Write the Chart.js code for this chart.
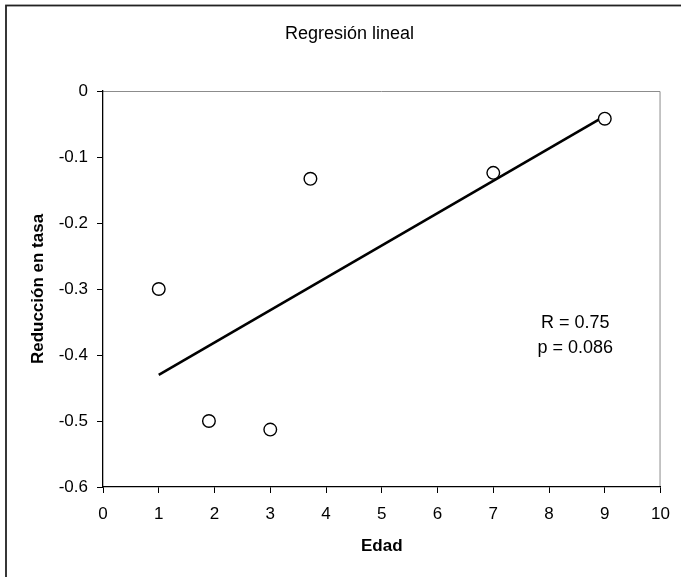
<!DOCTYPE html>
<html>
<head>
<meta charset="utf-8">
<script src="https://cdn.jsdelivr.net/npm/chart.js@4/dist/chart.umd.min.js"></script>
<style>
  html, body { margin: 0; padding: 0; background: #ffffff; }
  #wrap { width: 681px; height: 577px; }
</style>
</head>
<body>
<div id="wrap"><canvas id="chart" width="681" height="577"></canvas></div>
<script>
// --------------------------------------------
// Data
// --------------------------------------------

const edad = [1, 1.9, 3, 3.72, 7, 9];

const reduccion = [-0.30, -0.50, -0.513, -0.133, -0.124, -0.042];

const lineaX = [1, 9];

const lineaY = [-0.43, -0.038];

const xTicks = [0, 1, 2, 3, 4, 5, 6, 7, 8, 9, 10];

const yTicks = [0, -0.1, -0.2, -0.3, -0.4, -0.5, -0.6];

const chartTitle = "Regresión lineal";

const notas = ["R = 0.75", "p = 0.086"];

const FONT = "'Liberation Sans', Arial, sans-serif";


// --------------------------------------------
// Frame, title and notes
// --------------------------------------------

const framePlugin = {

    id: "frame",

    beforeDraw(chart) {

        const ctx = chart.ctx;

        const area = chart.chartArea;

        ctx.save();

        ctx.fillStyle = "#ffffff";
        ctx.fillRect(0, 0, chart.width, chart.height);

        // outer border: right and bottom edges fall outside the picture
        ctx.strokeStyle = "#222222";
        ctx.lineWidth = 1.8;
        ctx.strokeRect(6, 5.5, 700, 620);

        ctx.strokeStyle = "#8c8c8c";
        ctx.lineWidth = 1;
        ctx.beginPath();
        ctx.moveTo(area.left, area.top + 0.5);
        ctx.lineTo(area.right - 0.5, area.top + 0.5);
        ctx.lineTo(area.right - 0.5, area.bottom);
        ctx.stroke();

        ctx.fillStyle = "#000000";
        ctx.font = "18px " + FONT;
        ctx.textAlign = "center";
        ctx.textBaseline = "middle";
        ctx.fillText(chartTitle, 349.5, 34);

        ctx.restore();

    },

    afterDatasetsDraw(chart) {

        const ctx = chart.ctx;

        const x = chart.scales.x;

        const y = chart.scales.y;

        ctx.save();

        ctx.fillStyle = "#000000";
        ctx.font = "18px " + FONT;
        ctx.textAlign = "center";
        ctx.textBaseline = "middle";
        ctx.fillText(notas[0], x.getPixelForValue(8.47), y.getPixelForValue(-0.352));
        ctx.fillText(notas[1], x.getPixelForValue(8.47), y.getPixelForValue(-0.389));

        ctx.restore();

    }

};


// --------------------------------------------
// Chart
// --------------------------------------------

new Chart(

    document.getElementById("chart"),

    {

        type: "scatter",

        data: {

            datasets: [

                {
                    type: "line",
                    label: "Regresión",
                    data: lineaX.map((v, i) => ({ x: v, y: lineaY[i] })),
                    borderColor: "#000000",
                    borderWidth: 2.6,
                    pointRadius: 0,
                    fill: false,
                    order: 2
                },

                {
                    label: "Datos",
                    data: edad.map((v, i) => ({ x: v, y: reduccion[i] })),
                    pointRadius: 6.3,
                    pointBorderWidth: 1.4,
                    pointBorderColor: "#000000",
                    pointBackgroundColor: "#ffffff",
                    order: 1
                }

            ]

        },

        options: {

            responsive: false,

            animation: false,

            events: [],

            layout: {
                padding: { top: 91, right: 16, left: 0, bottom: 0 }
            },

            plugins: {
                legend: { display: false },
                title: { display: false },
                tooltip: { enabled: false }
            },

            scales: {

                x: {
                    type: "linear",
                    min: 0,
                    max: 10,
                    afterFit(scale) { scale.height = 90; },
                    afterBuildTicks(scale) { scale.ticks = xTicks.map(v => ({ value: v })); },
                    grid: {
                        drawOnChartArea: false,
                        drawTicks: true,
                        tickLength: 6,
                        color: "#000000",
                        lineWidth: 1
                    },
                    border: { color: "#000000", width: 1.3 },
                    ticks: {
                        color: "#000000",
                        padding: 11,
                        maxRotation: 0,
                        font: { family: FONT, size: 17 }
                    },
                    title: {
                        display: true,
                        text: "Edad",
                        color: "#000000",
                        padding: { top: 0, bottom: 20 },
                        font: { family: FONT, size: 17, weight: "bold" }
                    }
                },

                y: {
                    type: "linear",
                    min: -0.6,
                    max: 0,
                    afterFit(scale) { scale.width = 103; },
                    afterBuildTicks(scale) { scale.ticks = yTicks.map(v => ({ value: v })); },
                    grid: {
                        drawOnChartArea: false,
                        drawTicks: true,
                        tickLength: 6,
                        color: "#000000",
                        lineWidth: 1
                    },
                    border: { color: "#000000", width: 1.3 },
                    ticks: {
                        color: "#000000",
                        padding: 9,
                        font: { family: FONT, size: 17 },
                        callback: v => String(Math.round(v * 10) / 10)
                    },
                    title: {
                        display: true,
                        text: "Reducción en tasa",
                        color: "#000000",
                        padding: { top: 28, bottom: 0 },
                        font: { family: FONT, size: 17, weight: "bold" }
                    }
                }

            }

        },

        plugins: [framePlugin]

    }

);
</script>
</body>
</html>
